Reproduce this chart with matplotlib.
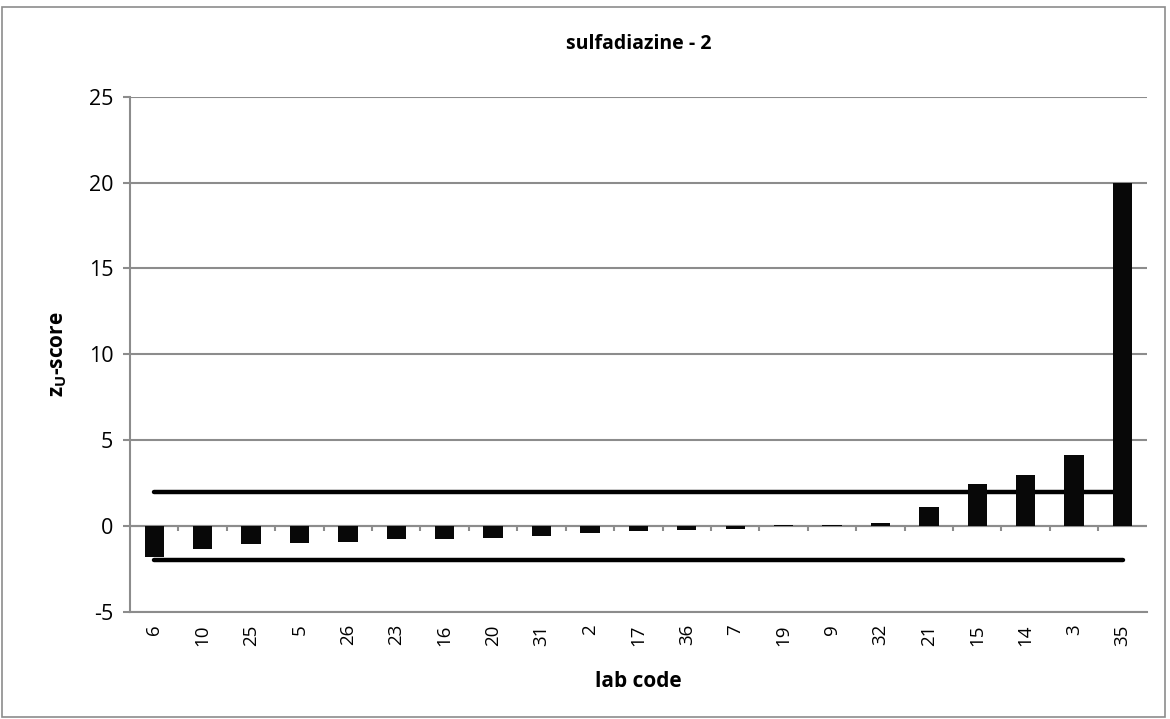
import numpy as np
import matplotlib
matplotlib.use('Agg')
import matplotlib.pyplot as plt
from matplotlib.patches import Rectangle

#### data ####
lab_codes = ['6', '10', '25', '5', '26', '23', '16', '20', '31', '2', '17',
             '36', '7', '19', '9', '32', '21', '15', '14', '3', '35']
z_scores = [-1.83, -1.32, -1.03, -0.99, -0.96, -0.76, -0.76, -0.70, -0.58, -0.41, -0.29,
            -0.23, -0.18, 0.05, 0.07, 0.14, 1.09, 2.42, 2.95, 4.13, 20.0]
upper_limit = 2
lower_limit = -2

plt.rcParams['font.family'] = ['Open Sans', 'DejaVu Sans']
plt.rcParams['mathtext.fontset'] = 'custom'
plt.rcParams['mathtext.rm'] = 'Open Sans'
plt.rcParams['mathtext.bf'] = 'Open Sans:bold'
plt.rcParams['axes.unicode_minus'] = False

grey = '#8c8c8c'
x = np.arange(len(lab_codes))

fig = plt.figure(figsize=(11.7, 7.19), dpi=100)
ax = fig.add_axes([0.1111, 0.1492, 0.869, 0.7163])

#### bars and limit lines ####
ax.bar(x, z_scores, width=0.4, color='#080808', zorder=3)
ax.plot(x, [upper_limit] * len(x), color='black', lw=3.2, solid_capstyle='round', zorder=2)
ax.plot(x, [lower_limit] * len(x), color='black', lw=3.2, solid_capstyle='round', zorder=2)

#### axes ####
ax.set_xlim(-0.5, len(x) - 0.5)
ax.set_ylim(-5, 25)
ax.set_yticks(np.arange(-5, 26, 5))
ax.yaxis.grid(True, color=grey, lw=1.5, zorder=0)
ax.set_axisbelow(True)

ax.set_xticks(x)
ax.set_xticklabels(lab_codes, rotation=90, fontsize=13.5)
ax.tick_params(axis='x', length=0, pad=9)
ax.tick_params(axis='y', length=5, width=1.5, color=grey, labelsize=15.5, pad=7)

for side in ['top', 'right']:
    ax.spines[side].set_visible(False)
ax.spines['left'].set_color(grey)
ax.spines['left'].set_linewidth(1.5)
ax.spines['bottom'].set_color(grey)
ax.spines['bottom'].set_linewidth(1.5)

# category axis crosses at zero, with small ticks between categories
ax.axhline(0, color=grey, lw=1.5, zorder=1)
bounds = np.arange(len(x) + 1) - 0.5
ax.vlines(bounds[1:-1], 0, -0.3, color=grey, lw=1.5, zorder=1)

ax.set_title('sulfadiazine - 2', fontsize=14, fontweight='bold', pad=34)
ax.set_xlabel('lab code', fontsize=15, fontweight='bold', labelpad=18)
ax.set_ylabel(r'z$_\mathbf{U}$-score', fontsize=15, fontweight='bold', labelpad=14)

# chart border
fig.patches.append(Rectangle((0.002, 0.003), 0.994, 0.987, transform=fig.transFigure,
                             fill=False, edgecolor=grey, lw=1.2))

fig.savefig('out.png', dpi=100)
